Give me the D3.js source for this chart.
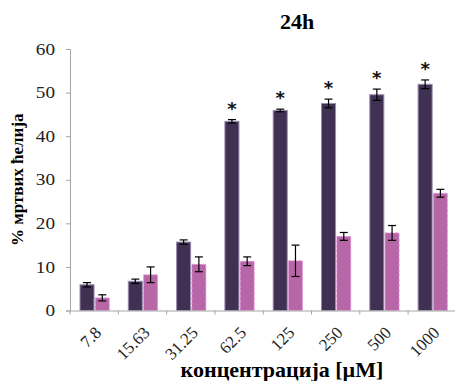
<!DOCTYPE html>
<html lang="sr">
<head>
<meta charset="UTF-8">
<title>24h</title>
<script src="https://cdn.jsdelivr.net/npm/d3@7"></script>
</head>
<body style="margin:0; background:#fff">
<div id="chart"></div>
<script>
const concentrations = ['7.8', '15.63', '31.25', '62.5', '125', '250', '500', '1000']
const darkValues = [5.9, 6.7, 15.7, 43.4, 45.9, 47.5, 49.5, 51.9]
const darkErrors = [0.5, 0.5, 0.5, 0.4, 0.3, 1.0, 1.3, 1.0]
const pinkValues = [2.9, 8.2, 10.6, 11.3, 11.4, 17.0, 17.8, 26.9]
const pinkErrors = [0.7, 1.8, 1.7, 1.0, 3.6, 0.9, 1.7, 0.9]
const significant = [false, false, false, true, true, true, true, true]
const yTicks = [0, 10, 20, 30, 40, 50, 60]

const serif = "'Liberation Serif'"
const width = 455
const height = 381
const margin = { top: 49, right: 0, bottom: 71, left: 70 }

const svg = d3.select('#chart')
  .append('svg')
  .attr('width', width)
  .attr('height', height)

const x = d3.scaleBand()
  .domain(concentrations)
  .range([margin.left, margin.left + 8 * 48.3])

const inner = d3.scaleBand()
  .domain(['dark', 'pink'])
  .range([10, x.bandwidth() - 9])
  .paddingInner(0.08)

const y = d3.scaleLinear()
  .domain([0, 60])
  .range([height - margin.bottom + 0.5, margin.top])

// axes
const yAxis = svg.append('g')
  .attr('transform', `translate(${margin.left},0)`)
  .call(d3.axisLeft(y).tickValues(yTicks).tickSize(4).tickPadding(11))
yAxis.selectAll('path, line').attr('stroke', '#a6a6a6')
// labels in the source are a bit wider than plain Times
yAxis.selectAll('text')
  .attr('x', -15 / 1.2)
  .attr('transform', 'scale(1.2,1)')
  .style('font-family', serif)
  .style('font-size', '16px')
  .attr('fill', '#222')

const rows = concentrations.map((c, i) => ({
  c,
  dark: darkValues[i], darkErr: darkErrors[i],
  pink: pinkValues[i], pinkErr: pinkErrors[i],
  sig: significant[i]
}))

const group = svg.selectAll('g.cat')
  .data(rows)
  .enter()
  .append('g')
  .attr('class', 'cat')
  .attr('transform', (d) => `translate(${x(d.c)},0)`)

group.append('rect')
  .attr('x', inner('dark'))
  .attr('y', (d) => y(d.dark))
  .attr('width', inner.bandwidth())
  .attr('height', (d) => y(0) - y(d.dark))
  .attr('fill', '#403052')
  .attr('stroke', '#9a8cb0')
  .attr('stroke-width', 1)

group.append('rect')
  .attr('x', inner('pink'))
  .attr('y', (d) => y(d.pink))
  .attr('width', inner.bandwidth())
  .attr('height', (d) => y(0) - y(d.pink))
  .attr('fill', '#b766a8')
  .attr('stroke', '#e79ade')
  .attr('stroke-width', 1)
  .attr('stroke-dasharray', '3,2')

function errorBar(sel, key, errKey, cls) {
  const cx = inner(key) + inner.bandwidth() / 2
  const eb = sel.append('g').attr('class', cls)
  eb.append('line')
    .attr('x1', cx).attr('x2', cx)
    .attr('y1', (d) => y(d[key] + d[errKey]))
    .attr('y2', (d) => y(d[key] - d[errKey]))
  eb.append('line')
    .attr('x1', cx - 4).attr('x2', cx + 4)
    .attr('y1', (d) => y(d[key] + d[errKey]))
    .attr('y2', (d) => y(d[key] + d[errKey]))
  eb.append('line')
    .attr('x1', cx - 4).attr('x2', cx + 4)
    .attr('y1', (d) => y(d[key] - d[errKey]))
    .attr('y2', (d) => y(d[key] - d[errKey]))
  eb.selectAll('line').attr('stroke', '#000').attr('stroke-width', 1.2)
}
errorBar(group, 'dark', 'darkErr', 'err-dark')
errorBar(group, 'pink', 'pinkErr', 'err-pink')

group.filter((d) => d.sig)
  .append('text')
  .attr('x', inner('dark') + inner.bandwidth() / 2)
  .attr('y', (d) => y(d.dark + d.darkErr) - 5)
  .attr('text-anchor', 'middle')
  .style('font-family', "'DejaVu Sans'")
  .style('font-weight', 'bold')
  .style('font-size', '18px')
  .attr('fill', '#111')
  .text('*')

const xAxis = svg.append('g')
  .attr('transform', `translate(0,${y(0)})`)
  .call(d3.axisBottom(x).tickSize(0).tickFormat(''))
xAxis.select('path').attr('stroke', '#a6a6a6')

// tick marks at band boundaries
svg.selectAll('line.xtick')
  .data(concentrations)
  .enter()
  .append('line')
  .attr('class', 'xtick')
  .attr('x1', (d) => x(d)).attr('x2', (d) => x(d))
  .attr('y1', y(0)).attr('y2', y(0) + 4)
  .attr('stroke', '#a6a6a6')

svg.selectAll('text.xlabel')
  .data(concentrations)
  .enter()
  .append('text')
  .attr('class', 'xlabel')
  .attr('transform', (d) => `translate(${x(d) + x.bandwidth() / 2 + 4},${y(0) + 19}) rotate(-45)`)
  .attr('text-anchor', 'end')
  .attr('dy', '0.35em')
  .style('font-family', serif)
  .style('font-size', '17px')
  .attr('fill', '#222')
  .text((d) => d)

svg.append('text')
  .attr('x', 297)
  .attr('y', 29)
  .attr('text-anchor', 'middle')
  .style('font-family', serif)
  .style('font-size', '22px')
  .style('font-weight', 'bold')
  .text('24h')

svg.append('text')
  .attr('x', 282)
  .attr('y', 377)
  .attr('text-anchor', 'middle')
  .style('font-family', serif)
  .style('font-size', '22px')
  .style('font-weight', 'bold')
  .text('концентрација [µM]')

svg.append('text')
  .attr('transform', `translate(23,${(y(0) + y(60)) / 2}) rotate(-90)`)
  .attr('text-anchor', 'middle')
  .style('font-family', serif)
  .style('font-size', '17px')
  .style('font-weight', 'bold')
  .text('% мртвих ћелија')
</script>
</body>
</html>
